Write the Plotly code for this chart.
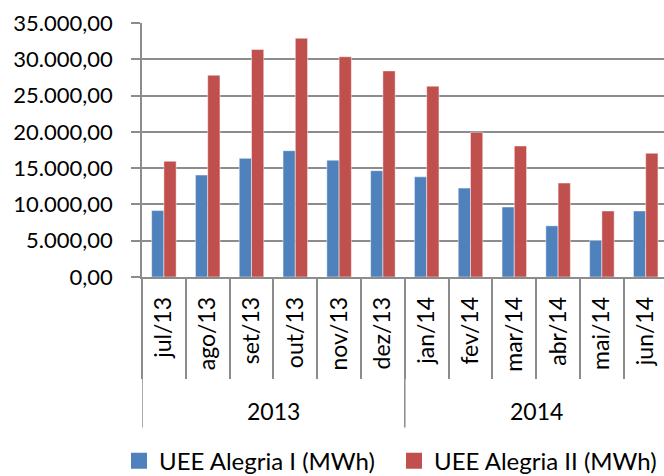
import plotly.graph_objects as go

months = ["jul/13", "ago/13", "set/13", "out/13", "nov/13", "dez/13",
          "jan/14", "fev/14", "mar/14", "abr/14", "mai/14", "jun/14"]
years = ["2013", "2014"]
year_counts = [6, 6]
alegria1 = [9150, 14050, 16350, 17400, 16100, 14650, 13800, 12250, 9650, 7050, 5050, 9100]
alegria2 = [15950, 27800, 31350, 32900, 30350, 28400, 26300, 19950, 18050, 12950, 9100, 17050]
series_names = ["UEE Alegria I (MWh)", "UEE Alegria II (MWh)"]
y_ticks = [0, 5000, 10000, 15000, 20000, 25000, 30000, 35000]

BLUE = "#4F81BD"
RED = "#C0504D"
GRID = "#8C8C8C"
FONT = "Lato"
FS = 23

fig = go.Figure()
for name, vals, col, lg in [(series_names[0], alegria1, BLUE, "legend"),
                            (series_names[1], alegria2, RED, "legend2")]:
    fig.add_trace(go.Bar(x=months, y=vals, name=name, marker_color=col,
                         marker_line=dict(color="rgba(255,255,255,0.6)", width=0.8),
                         showlegend=False))
    fig.add_trace(go.Scatter(x=[None], y=[None], mode="markers", name=name, legend=lg,
                             marker=dict(symbol="square", size=19, color=col)))

# year group separators and labels
shapes = []
annotations = []
start = 0
for yr, cnt in zip(years, year_counts):
    shapes.append(dict(type="line", xref="x", yref="paper", x0=start - 0.5, x1=start - 0.5,
                       y0=0, y1=-0.593, line=dict(color=GRID, width=1.5)))
    annotations.append(dict(text=yr, xref="x", yref="paper", x=start + (cnt - 1) / 2,
                            y=-0.527, showarrow=False, xanchor="center", yanchor="middle",
                            font=dict(family=FONT, size=FS, color="#000000")))
    start += cnt

legend_common = dict(orientation="h", xref="container", yref="container",
                     xanchor="left", y=0.031, yanchor="middle",
                     font=dict(family=FONT, size=24), itemwidth=30,
                     bgcolor="rgba(0,0,0,0)")

fig.update_layout(
    width=664, height=476,
    margin=dict(l=142, r=0, t=23.3, b=198.7, autoexpand=False),
    paper_bgcolor="white", plot_bgcolor="white",
    barmode="group", bargap=0.44, bargroupgap=0,
    separators=",.",
    font=dict(family=FONT, size=FS, color="#000000"),
    shapes=shapes, annotations=annotations,
    legend=dict(x=119 / 664, **legend_common),
    legend2=dict(x=394 / 664, **legend_common),
)
fig.update_xaxes(
    type="category", range=[-0.5, 11.418], automargin=False,
    tickangle=-90, ticks="outside", tickson="boundaries", ticklen=100,
    tickcolor=GRID, tickwidth=1.5, ticklabelstandoff=9,
    showline=True, linecolor=GRID, linewidth=1.5, showgrid=False,
    tickfont=dict(family=FONT, size=FS, color="#000000"),
)
fig.update_yaxes(
    range=[0, 35000], tickvals=y_ticks, tickformat=",.2f", automargin=False,
    ticks="outside", ticklen=9, tickcolor=GRID, tickwidth=1.5,
    showline=True, linecolor=GRID, linewidth=1.5,
    showgrid=True, gridcolor=GRID, gridwidth=1.5, zeroline=False,
    ticklabelstandoff=14,
    tickfont=dict(family=FONT, size=22, color="#000000"),
)

fig.write_html("out.html", config={"displayModeBar": False},
               post_script="document.body.style.margin='0';")
